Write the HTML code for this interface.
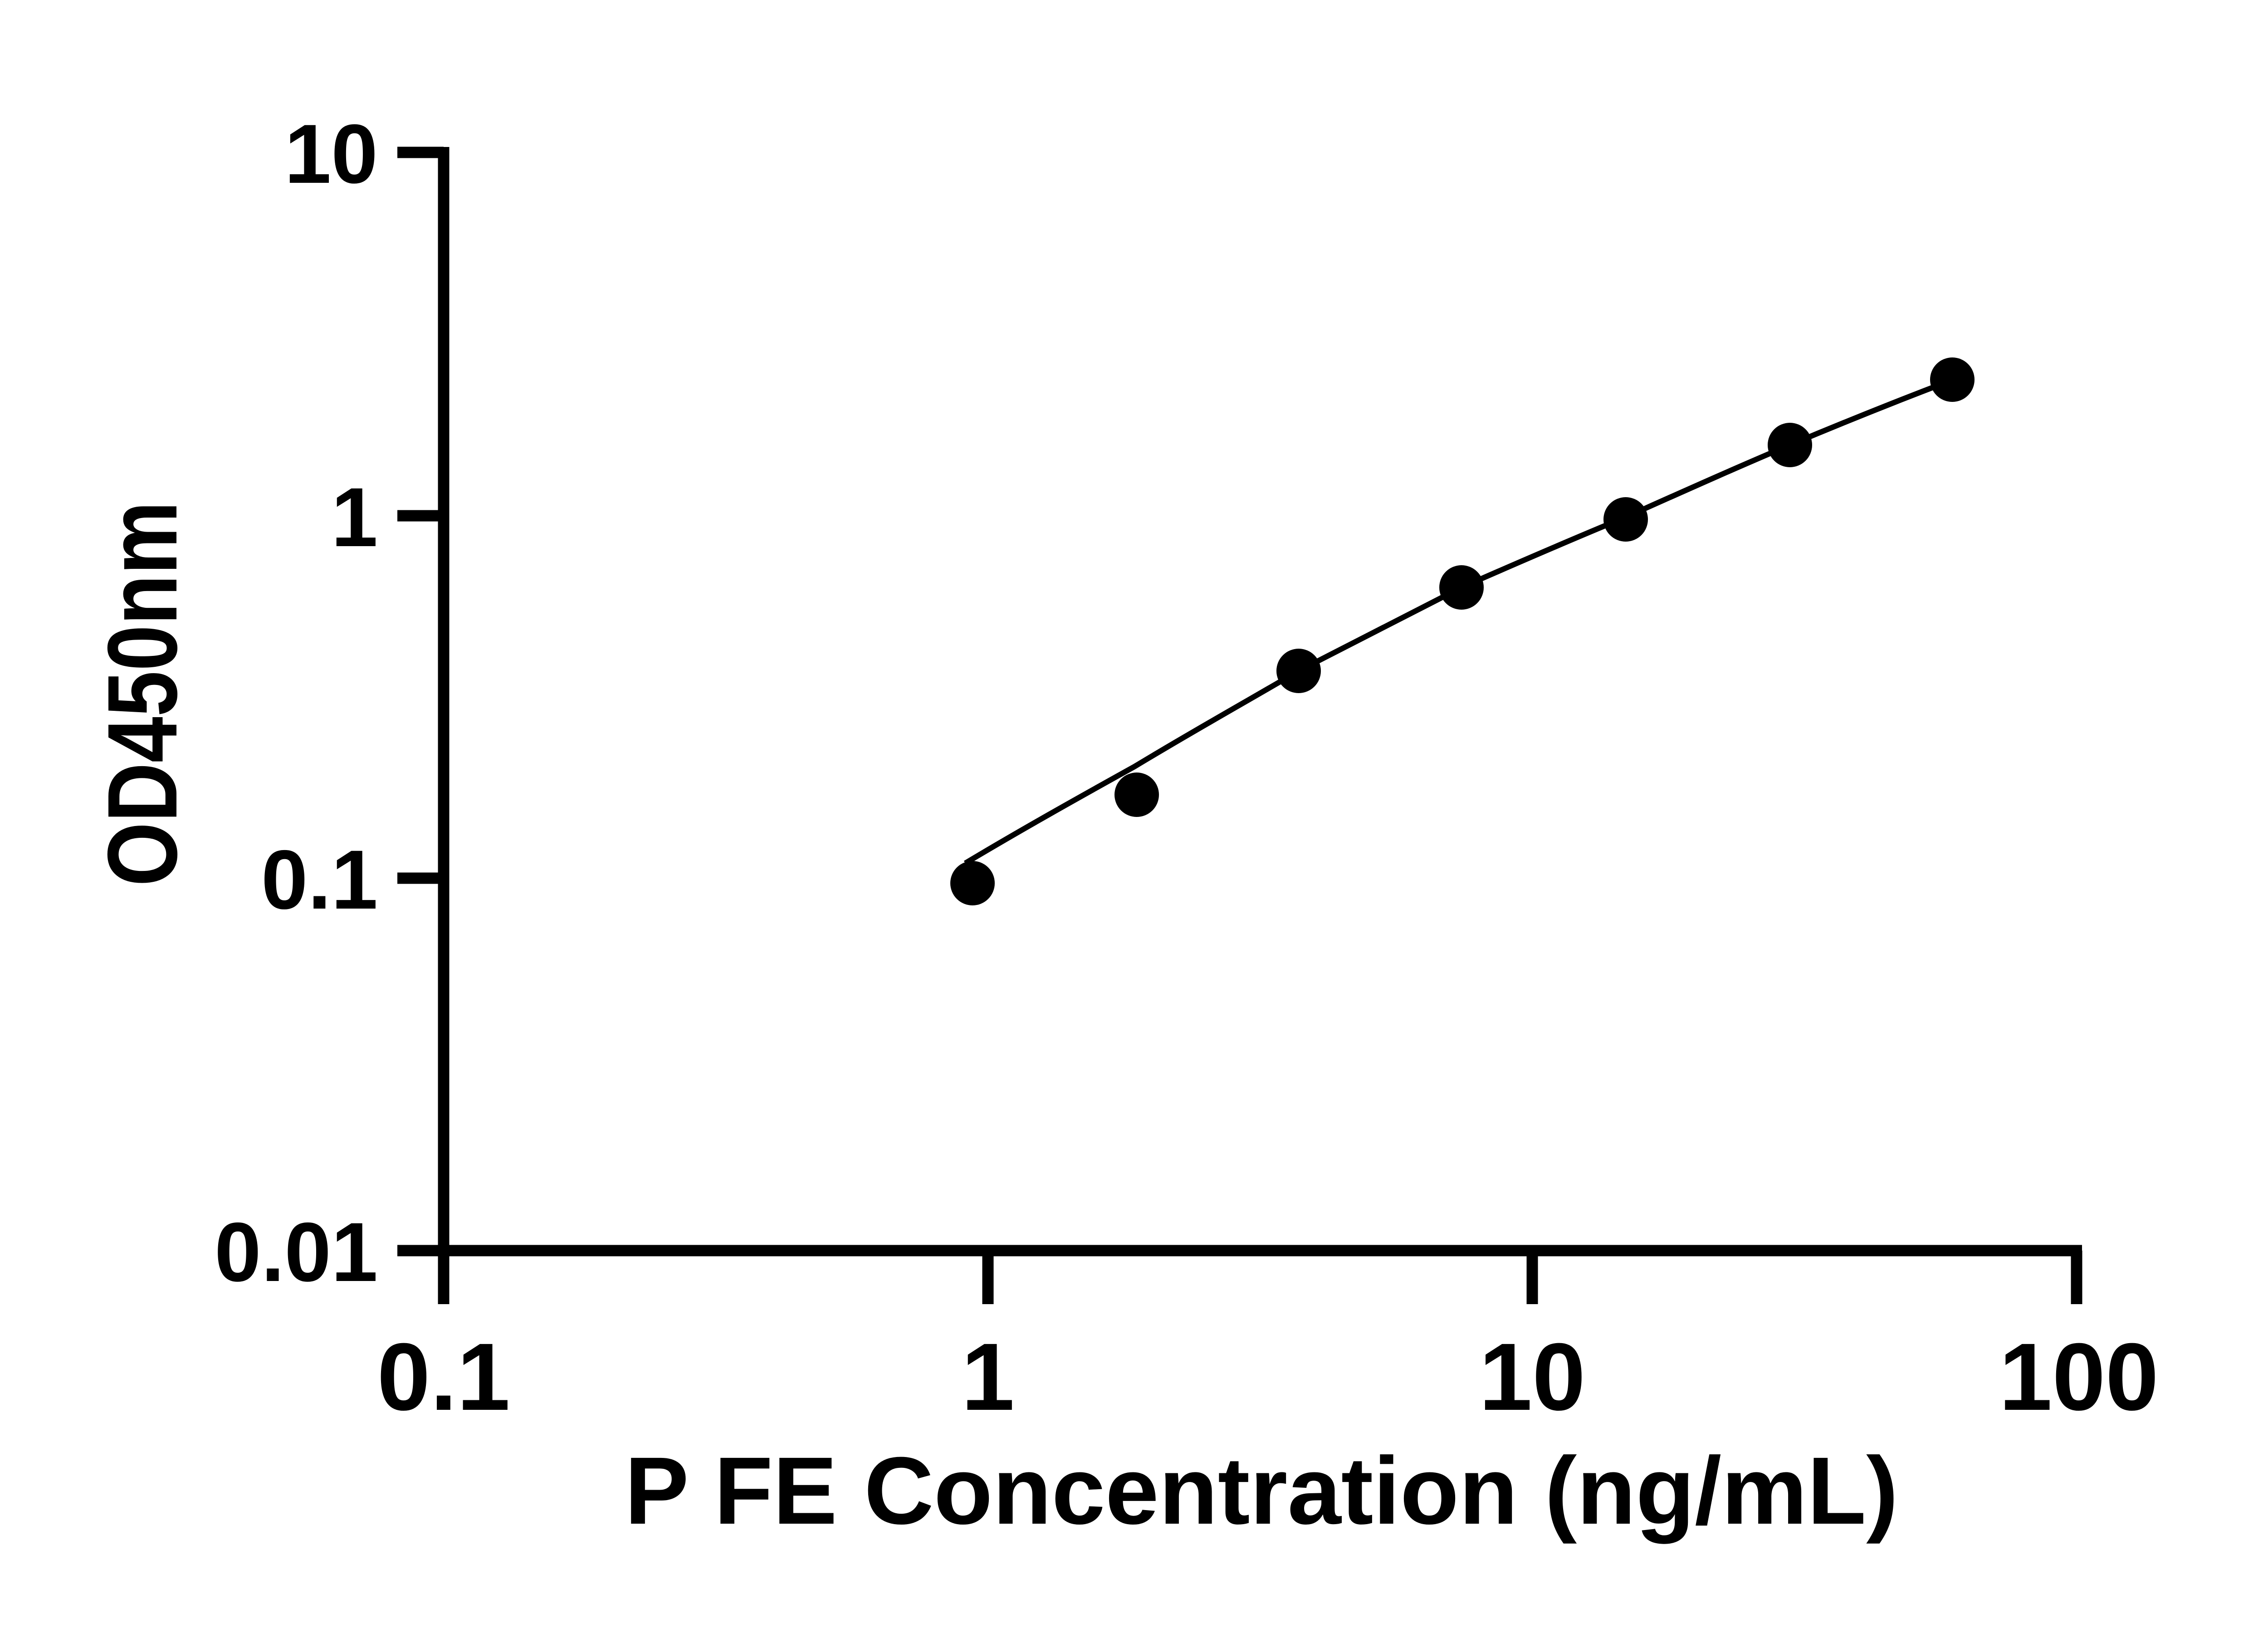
<!DOCTYPE html>
<html><head><style>html,body{margin:0;padding:0;background:#fff}svg{display:block}</style></head>
<body>
<svg width="5130" height="3600" viewBox="0 0 5130 3600" xmlns="http://www.w3.org/2000/svg">
<rect width="5130" height="3600" fill="#fff"/>
<g stroke="#000" stroke-width="25" fill="none">
<line x1="978" y1="324" x2="978" y2="2875"/>
<line x1="966" y1="2757" x2="4590" y2="2757"/>
<line x1="876" y1="336" x2="978" y2="336"/>
<line x1="876" y1="1137" x2="978" y2="1137"/>
<line x1="876" y1="1936" x2="978" y2="1936"/>
<line x1="876" y1="2757" x2="978" y2="2757"/>
<line x1="2178" y1="2757" x2="2178" y2="2875"/>
<line x1="3378" y1="2757" x2="3378" y2="2875"/>
<line x1="4578" y1="2757" x2="4578" y2="2875"/>
</g>
<path d="M2128,1903 C2250,1830 2375,1760 2501,1690 C2620,1618 2745,1548 2863,1479 C2985,1416 3105,1355 3222,1295 C3345,1241 3465,1189 3584,1140 C3705,1086 3825,1032 3946,981 C4065,931 4180,885 4290,843" stroke="#000" stroke-width="12" fill="none"/>
<g fill="#000">
<circle cx="2144" cy="1947" r="49"/>
<circle cx="2506" cy="1752" r="49"/>
<circle cx="2863" cy="1479" r="49"/>
<circle cx="3222" cy="1295" r="49"/>
<circle cx="3584" cy="1145" r="49"/>
<circle cx="3946" cy="981" r="49"/>
<circle cx="4304" cy="837" r="49"/>
</g>
<g font-family="Liberation Sans, sans-serif" font-weight="bold" fill="#000">
<g text-anchor="end" font-size="185">
<text x="833" y="403">10</text>
<text x="833" y="1204">1</text>
<text x="833" y="2003">0.1</text>
<text x="833" y="2824">0.01</text>
</g>
<g text-anchor="middle" font-size="211">
<text x="978" y="3108">0.1</text>
<text x="2178" y="3108">1</text>
<text x="3378" y="3108">10</text>
<text x="4583" y="3108">100</text>
</g>
<text x="1377" y="3359" font-size="211" textLength="2808" lengthAdjust="spacingAndGlyphs">P FE Concentration (ng/mL)</text>
<text transform="translate(389,1954) rotate(-90)" font-size="218" textLength="849" lengthAdjust="spacingAndGlyphs">OD450nm</text>
</g>
</svg>
</body></html>
